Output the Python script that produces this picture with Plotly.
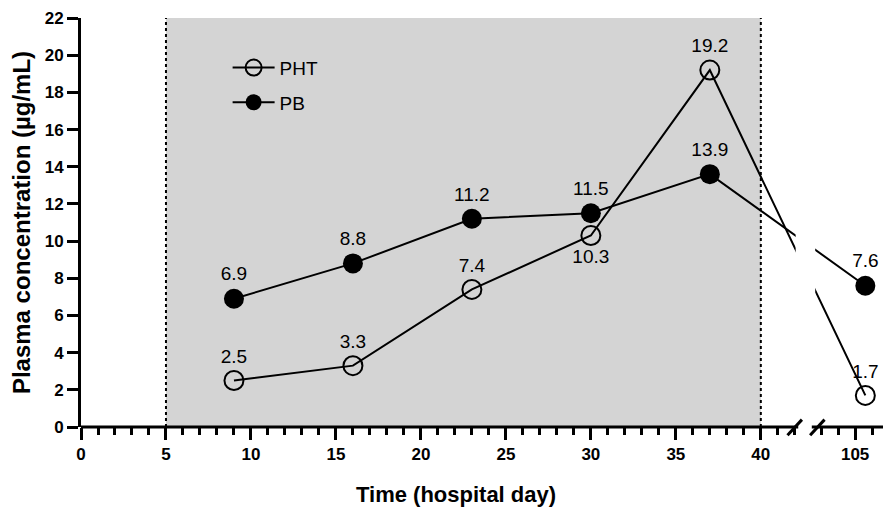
import plotly.graph_objects as go

# ---------------- data ----------------
days = [9, 16, 23, 30, 37, 105.6]
pht_values = [2.5, 3.3, 7.4, 10.3, 19.2, 1.7]
pb_values = [6.9, 8.8, 11.2, 11.5, 13.6, 7.6]
pht_labels = ["2.5", "3.3", "7.4", "10.3", "19.2", "1.7"]
pb_labels = ["6.9", "8.8", "11.2", "11.5", "13.9", "7.6"]
major_tick_days = [0, 5, 10, 15, 20, 25, 30, 35, 40, 105]
major_tick_labels = ["0", "5", "10", "15", "20", "25", "30", "35", "40", "105"]
minor_tick_days = [d for d in range(1, 43) if d % 5 != 0] + [103, 104, 106, 107]
shaded_days = [5, 40]
y_ticks = list(range(0, 23, 2))

# ---------------- broken axis mapping ----------------
BREAK_DAY = 42.5       # days beyond this are shifted left
BREAK_SHIFT = 59.45    # days removed by the axis break
X_MAX = 47.66
GAP_LINE = (42.05, 43.2)   # blanked region for the data lines (display units)
GAP_AXIS = (42.2, 43.0)    # blanked region for the axis line


def disp(d):
    return d if d <= BREAK_DAY else d - BREAK_SHIFT


FONT = "Liberation Sans, Arial, Helvetica, sans-serif"

fig = go.Figure()

fig.add_trace(go.Scatter(
    x=[disp(d) for d in days], y=pht_values,
    mode="lines+markers+text", name="PHT", legendgroup="a",
    text=pht_labels,
    textposition=["top center", "top center", "top center", "bottom center", "top center", "top center"],
    textfont=dict(family=FONT, size=19, color="black"),
    line=dict(color="black", width=2),
    marker=dict(symbol="circle-open", size=19, color="black", line=dict(width=2)),
    cliponaxis=False,
))
fig.add_trace(go.Scatter(
    x=[disp(d) for d in days], y=pb_values,
    mode="lines+markers+text", name="PB", legendgroup="b",
    text=pb_labels, textposition="top center",
    textfont=dict(family=FONT, size=19, color="black"),
    line=dict(color="black", width=2),
    marker=dict(symbol="circle", size=20, color="black"),
    cliponaxis=False,
))

shapes = []
# shaded hospital period
shapes.append(dict(type="rect", xref="x", yref="y", x0=shaded_days[0], x1=shaded_days[1],
                   y0=0, y1=22, fillcolor="#d4d4d4", line=dict(width=0), layer="below"))
for d in shaded_days:
    shapes.append(dict(type="line", xref="x", yref="y", x0=d, x1=d, y0=0, y1=22,
                       line=dict(color="black", width=2, dash="dot"), layer="above"))
# gap in data lines
shapes.append(dict(type="rect", xref="x", yref="y", x0=GAP_LINE[0], x1=GAP_LINE[1],
                   y0=0.15, y1=22, fillcolor="white", line=dict(width=0), layer="above"))
# x axis line with break
shapes.append(dict(type="line", xref="x", yref="paper", x0=-0.08, x1=GAP_AXIS[0], y0=0, y1=0,
                   line=dict(color="black", width=3)))
shapes.append(dict(type="line", xref="x", yref="paper", x0=GAP_AXIS[1], x1=X_MAX, y0=0, y1=0,
                   line=dict(color="black", width=3)))
# break slashes
for x0 in (41.57, 42.9):
    shapes.append(dict(type="line", xref="x", yref="paper", x0=x0, x1=x0 + 0.85,
                       y0=-0.02, y1=0.018, line=dict(color="black", width=3)))

# the page body adds an 8 px offset, so the figure is sized to end at the window edge
fig.update_layout(
    width=883, height=501, autosize=False,
    margin=dict(l=73, r=0, t=10, b=82),
    paper_bgcolor="white", plot_bgcolor="white",
    shapes=shapes,
    showlegend=True,
    legend=dict(x=0.181, y=0.925, xanchor="left", yanchor="top",
                bgcolor="rgba(0,0,0,0)", font=dict(family=FONT, size=19, color="black"),
                tracegroupgap=7, traceorder="grouped", itemwidth=42),
    xaxis=dict(
        range=[0, X_MAX], showline=False, zeroline=False, showgrid=False,
        tickmode="array", tickvals=[disp(d) for d in major_tick_days], ticktext=major_tick_labels,
        ticks="outside", ticklen=12, tickwidth=3, tickcolor="black",
        tickfont=dict(family=FONT, size=17, color="black", weight="bold"),
        minor=dict(tickmode="array", tickvals=[disp(d) for d in minor_tick_days],
                   ticks="outside", ticklen=7, tickwidth=3, tickcolor="black", showgrid=False),
    ),
    yaxis=dict(
        range=[0, 22], showline=True, linewidth=3, linecolor="black",
        zeroline=False, showgrid=False,
        tickmode="array", tickvals=y_ticks,
        ticks="outside", ticklen=11, tickwidth=3, tickcolor="black",
        tickfont=dict(family=FONT, size=17, color="black", weight="bold"),
        title=dict(text="Plasma concentration (µg/mL)", standoff=10,
                   font=dict(family=FONT, size=24, color="black", weight="bold")),
    ),
    annotations=[dict(text="Time (hospital day)", xref="paper", yref="paper",
                      x=(456 - 81) / 810, y=-0.165, xanchor="center", yanchor="middle",
                      showarrow=False,
                      font=dict(family=FONT, size=22, color="black", weight="bold"))],
)

fig.write_html("out.html")
